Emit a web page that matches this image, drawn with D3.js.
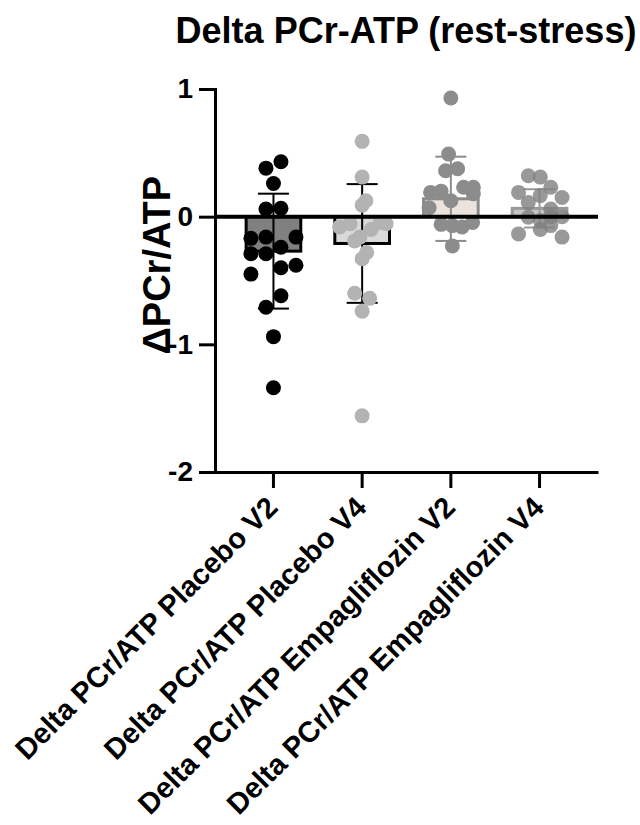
<!DOCTYPE html>
<html>
<head>
  <meta charset="utf-8">
  <script src="https://d3js.org/d3.v7.min.js"></script>
  <style>
    body { margin: 0; background: #fff; }
    text { font-family: "Liberation Sans", Arial, sans-serif; font-weight: bold; font-variant-ligatures: none; }
  </style>
</head>
<body>
  <script>
    // groups on the x axis
    const categories = [
      "Delta PCr/ATP Placebo V2",
      "Delta PCr/ATP Placebo V4",
      "Delta PCr/ATP Empagliflozin V2",
      "Delta PCr/ATP Empagliflozin V4"
    ];

    // bar height (mean) and error bar (SD)
    const means = [-0.27, -0.21, 0.14, 0.065];
    const sds = [0.45, 0.465, 0.33, 0.15];

    // individual values for each group
    const placeboV2 = [0.43, 0.38, 0.26, 0.06, 0.065, -0.17, -0.16, -0.16, -0.29, -0.29,
                       -0.24, -0.40, -0.38, -0.45, -0.62, -0.71, -0.94, -1.34];
    const placeboV4 = [0.59, 0.31, 0.125, 0.09, -0.08, -0.055, -0.045, -0.055, -0.10, -0.16,
                       -0.19, -0.28, -0.33, -0.60, -0.64, -0.74, -1.56];
    const empaV2 = [0.93, 0.49, 0.36, 0.375, 0.19, 0.20, 0.23, 0.23, 0.07, 0.125,
                    0.18, -0.06, -0.07, -0.08, -0.045, -0.23];
    const empaV4 = [0.32, 0.31, 0.23, 0.19, 0.165, 0.15, 0.11, 0.06, -0.005, 0.0,
                    0.0, -0.03, -0.07, -0.10, -0.135, -0.16];

    // scatter column of each point (in dot-widths, 0 = centre)
    const placeboV2Col = [1, -1, 0, -1, 1, -3, -1, 3, -3, -1, 1, 1, 3, -3, 1, -1, 0, 0];
    const placeboV4Col = [0, 0, 0.5, 0, -3, -1.6, 2.4, 3.2, 1.2, -0.3, -1, 0.6, 0, -1, 1, 0, 0];
    const empaV2Col = [0, -0.3, -0.7, 0.9, -2.7, -1.3, 1.7, 3, -2.9, 0, 3, -1.3, 0.2, 1.5, 2.9, 0.2];
    const empaV4Col = [-1.5, 0.1, 1.5, -2.8, 0.1, 3, -1.5, 1.5, -1.5, 1.5, 3, 0.1, 1.5, 0.1, -2.8, 3];

    const yTicks = [-2, -1, 0, 1];

    const values = [placeboV2, placeboV4, empaV2, empaV4];
    const cols = [placeboV2Col, placeboV4Col, empaV2Col, empaV4Col];

    // styling per group
    const barFill = ["#808080", "#d9d9d9", "#ece4dc", "#c6c6c6"];
    const barStroke = ["#000", "#000", "#8c8c8c", "#999"];
    const dotFill = ["#000", "#b3b3b3", "#8c8c8c", "#808080"];
    const dotOpacity = [1, 1, 1, 0.8];

    const w = 640;
    const h = 825;
    const mLeft = 215, mRight = 598, mTop = 89, mBottom = 472;
    const r = 7.5;
    const colStep = 7.5;

    const svg = d3.select("body")
      .append("svg")
      .attr("width", w)
      .attr("height", h);

    const x = d3.scaleBand()
      .domain(categories)
      .range([mLeft, mRight])
      .paddingInner(0.35)
      .paddingOuter(0.334);

    const y = d3.scaleLinear()
      .domain([-2, 1])
      .range([mBottom, mTop]);

    const cx = (i) => x(categories[i]) + x.bandwidth() / 2;

    // bars
    svg.selectAll("rect.bar")
      .data(means)
      .enter()
      .append("rect")
      .attr("class", "bar")
      .attr("x", (d, i) => x(categories[i]) + 1.5)
      .attr("width", x.bandwidth() - 3)
      .attr("y", (d) => y(Math.max(0, d)))
      .attr("height", (d) => Math.abs(y(d) - y(0)))
      .attr("fill", (d, i) => barFill[i])
      .attr("stroke", (d, i) => barStroke[i])
      .attr("stroke-width", 3);

    // error bars
    const err = svg.append("g");
    means.forEach((m, i) => {
      const c = cx(i);
      const g = err.append("g")
        .attr("stroke", barStroke[i])
        .attr("stroke-width", 2);
      g.append("line")
        .attr("x1", c).attr("x2", c)
        .attr("y1", y(m + sds[i])).attr("y2", y(m - sds[i]));
      [m + sds[i], m - sds[i]].forEach((v) => {
        g.append("line")
          .attr("x1", c - 15.5).attr("x2", c + 15.5)
          .attr("y1", y(v)).attr("y2", y(v));
      });
    });

    // points
    values.forEach((vals, i) => {
      svg.append("g")
        .selectAll("circle")
        .data(vals)
        .enter()
        .append("circle")
        .attr("cx", (d, j) => cx(i) + cols[i][j] * colStep)
        .attr("cy", (d) => y(d))
        .attr("r", r)
        .attr("fill", dotFill[i])
        .attr("fill-opacity", dotOpacity[i]);
    });

    // zero line
    svg.append("line")
      .attr("x1", mLeft).attr("x2", mRight)
      .attr("y1", y(0)).attr("y2", y(0))
      .attr("stroke", "#000")
      .attr("stroke-width", 4);

    // axes
    const yAxis = d3.axisLeft(y)
      .tickValues(yTicks)
      .tickFormat((d) => String(d))
      .tickSize(16)
      .tickPadding(6);
    const gy = svg.append("g")
      .attr("transform", "translate(" + mLeft + ",0)")
      .call(yAxis);
    gy.select(".domain").attr("stroke-width", 3);
    gy.selectAll(".tick line").attr("stroke-width", 3);
    gy.selectAll(".tick text")
      .attr("font-size", 28)
      .attr("fill", "#000");

    const xAxis = d3.axisBottom(x)
      .tickSize(16)
      .tickSizeOuter(0);
    const gx = svg.append("g")
      .attr("transform", "translate(0," + mBottom + ")")
      .call(xAxis);
    gx.select(".domain").attr("stroke-width", 3);
    gx.selectAll(".tick line").attr("stroke-width", 3);
    gx.selectAll(".tick text")
      .attr("font-size", 29)
      .attr("fill", "#000")
      .attr("text-anchor", "end")
      .attr("dy", null)
      .attr("y", null)
      .attr("transform", "translate(6,37) rotate(-45)");
    gy.attr("font-family", null).attr("font-size", null);
    gx.attr("font-family", null).attr("font-size", null);

    // titles
    svg.append("text")
      .attr("x", 406)
      .attr("y", 43)
      .attr("text-anchor", "middle")
      .attr("font-size", 36)
      .text("Delta PCr-ATP (rest-stress)");

    svg.append("text")
      .attr("transform", "translate(170," + y(-0.38) + ") rotate(-90)")
      .attr("text-anchor", "middle")
      .attr("font-size", 38)
      .text("\u0394PCr/ATP");
  </script>
</body>
</html>
